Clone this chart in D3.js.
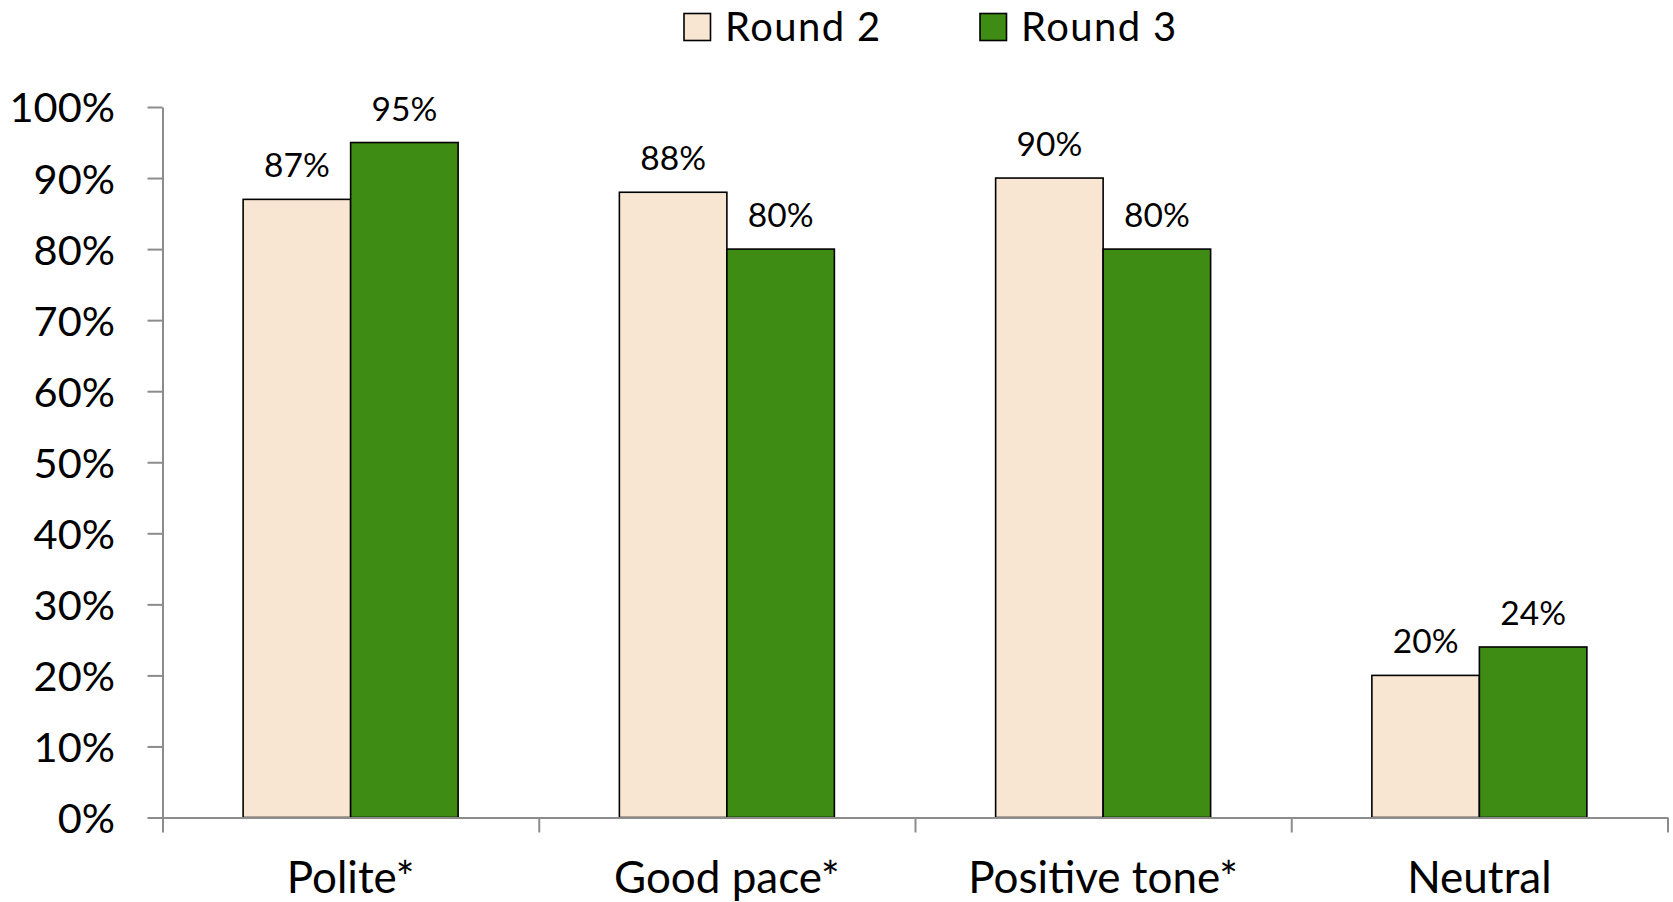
<!DOCTYPE html>
<html><head><meta charset="utf-8">
<script src="https://cdn.jsdelivr.net/npm/d3@7"></script>
<style>body{margin:0;background:#fff}svg{display:block}text{font-family:Lato,"Open Sans",sans-serif;fill:#000}</style>
</head><body><svg id="c" width="1673" height="902"></svg>
<script>
const categories = ["Polite*", "Good pace*", "Positive tone*", "Neutral"];
const seriesNames = ["Round 2", "Round 3"];
const round2 = [0.87, 0.88, 0.90, 0.20];
const round3 = [0.95, 0.80, 0.80, 0.24];
const yTicks = [0, 0.1, 0.2, 0.3, 0.4, 0.5, 0.6, 0.7, 0.8, 0.9, 1.0];
const colors = ["#F8E6D3", "#3F8C14"];

const svg = d3.select("#c");
const L = 162.5, R = 1667.5, T = 107, B = 817.5;
const y = d3.scaleLinear().domain([0, 1]).range([B, T]);
const x0 = d3.scaleBand().domain(categories).range([L, R]).padding(0);
const x1 = d3.scaleBand().domain(seriesNames).range([0, x0.bandwidth()]).paddingInner(0).paddingOuter(0.75);
const xb = d3.scaleLinear().domain([0, categories.length]).range([L, R]);
const fmt = d3.format(".0%");
const axisColor = "#8c8c8c";

// bars
const data = categories.map((c, i) => ({c, vals: [round2[i], round3[i]]}));
const g = svg.append("g");
data.forEach(d => {
  d.vals.forEach((v, j) => {
    const xx = x0(d.c) + x1(seriesNames[j]);
    g.append("rect").attr("x", xx).attr("y", y(v)).attr("width", x1.bandwidth()).attr("height", y(0) - y(v))
      .attr("fill", colors[j]).attr("stroke", "#000").attr("stroke-width", 1.6);
    g.append("text").attr("x", xx + x1.bandwidth() / 2).attr("y", y(v) - 22)
      .attr("text-anchor", "middle").attr("font-size", 33.5).text(fmt(v));
  });
});

// y axis
const ya = svg.append("g").attr("transform", `translate(${L},0)`)
  .call(d3.axisLeft(y).tickValues(yTicks).tickFormat(fmt).tickSize(15).tickSizeOuter(0).tickPadding(32.5));
ya.selectAll("path,line").attr("stroke", axisColor).attr("stroke-width", 2);
ya.selectAll("text").attr("font-size", 41.5).attr("dy", "0.36em").attr("font-family", "Lato");

// x axis
const xa = svg.append("g").attr("transform", `translate(0,${B})`)
  .call(d3.axisBottom(xb).tickValues(d3.range(categories.length + 1)).tickFormat("").tickSize(15).tickSizeOuter(0));
xa.selectAll("path,line").attr("stroke", axisColor).attr("stroke-width", 2);

svg.append("g").selectAll("text").data(categories).join("text")
  .attr("x", d => x0(d) + x0.bandwidth() / 2).attr("y", 893)
  .attr("text-anchor", "middle").attr("font-size", 44).text(d => d);

// legend
const legX = [684, 980];
const lg = svg.append("g");
seriesNames.forEach((s, j) => {
  lg.append("rect").attr("x", legX[j]).attr("y", 13.5).attr("width", 26.5).attr("height", 27)
    .attr("fill", colors[j]).attr("stroke", "#000").attr("stroke-width", 1.6);
  lg.append("text").attr("x", legX[j] + 41).attr("y", 40.5).attr("font-size", 40)
    .attr("letter-spacing", 1.4).text(s);
});
</script></body></html>
